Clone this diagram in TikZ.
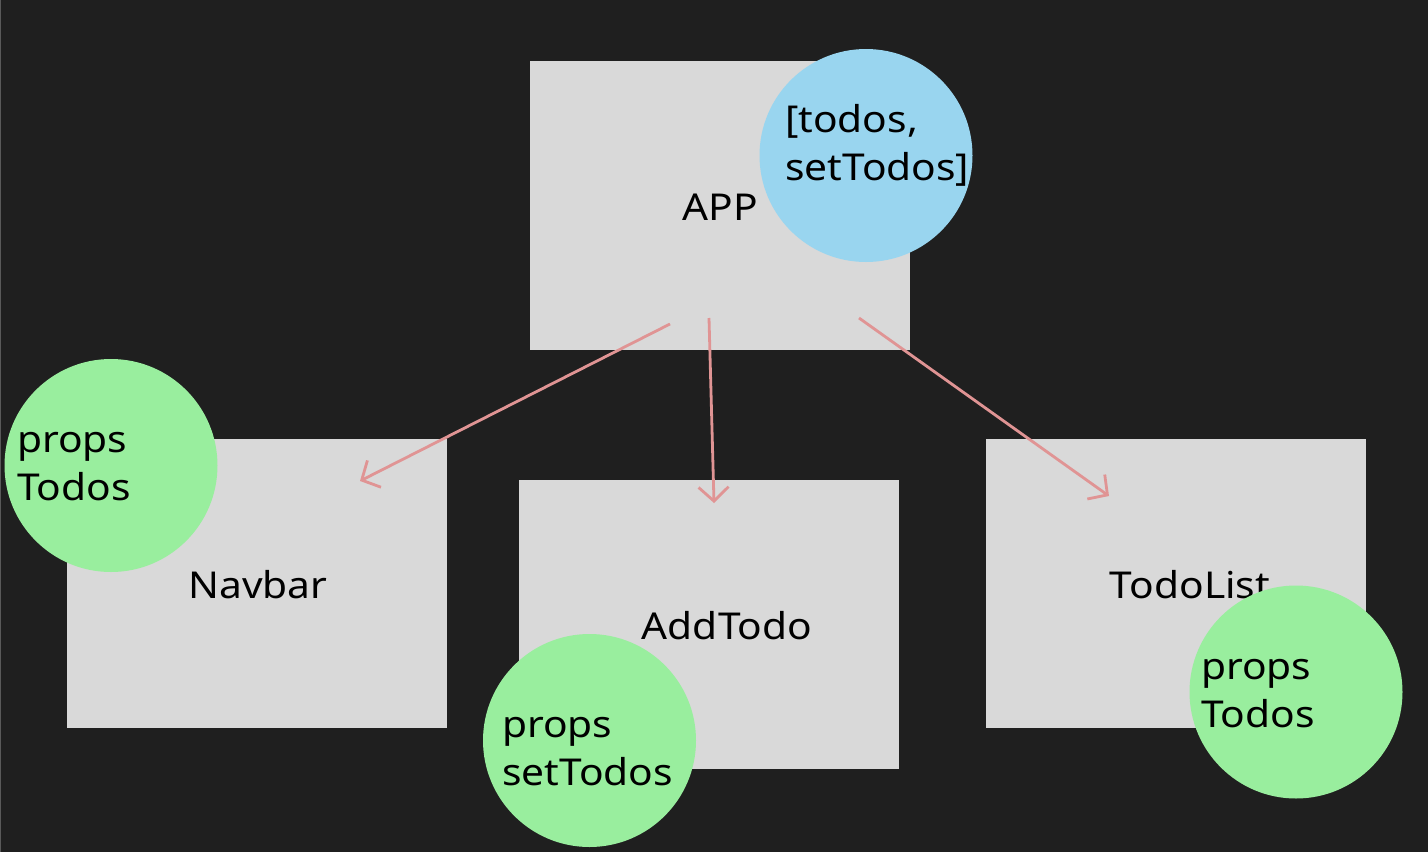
\documentclass[tikz,border=0pt]{standalone}
\usepackage{fontspec}
\setmainfont[FakeStretch=1.1]{Noto Sans}
\usetikzlibrary{arrows.meta}
\definecolor{bg}{HTML}{1F1F1F}
\definecolor{boxgray}{HTML}{D9D9D9}
\definecolor{skyblue}{HTML}{99D5EF}
\definecolor{mint}{HTML}{99EE9E}
\definecolor{arrowpink}{HTML}{E09494}
\tikzset{
  box/.style={fill=boxgray, draw=none, minimum width=380pt, minimum height=289pt, inner sep=0pt},
  bubble/.style={circle, draw=none, minimum size=213pt, inner sep=0pt},
  lbl/.style={font=\fontsize{37}{48}\selectfont, text=black, inner sep=0pt},
  blbl/.style={font=\fontsize{37}{48}\selectfont, text=black, inner sep=0pt, align=left, anchor=west},
  flow/.style={draw=arrowpink, line width=2.8pt, -{Straight Barb[length=14pt,width=30pt,line width=2.8pt]}}
}
\begin{document}
\begin{tikzpicture}[x=1pt,y=-1pt]
\fill[bg] (0,0) rectangle (1428,852);
\useasboundingbox (0,0) rectangle (1428,852);
\draw[gray!60!bg, line width=1pt] (0.5,0) -- (0.5,852);
% boxes
\node[box] (app) at (720,205.5) {};
\node[box] (navbar) at (257,583.5) {};
\node[box] (addtodo) at (709,624.5) {};
\node[box] (todolist) at (1176,583.5) {};
% box labels
\node[lbl] (appl) at (720,207) {APP};
\node[lbl] (navl) at (258,585) {Navbar};
\node[lbl] (addl) at (727,626) {AddTodo};
\node[lbl] (tdl) at (1190,585) {TodoList};
% arrows
\coordinate (a1s) at (670,324);
\coordinate (a1e) at (360,481);
\coordinate (a2s) at (709,318);
\coordinate (a2e) at (714,503);
\coordinate (a3s) at (859,318);
\coordinate (a3e) at (1109,496);
\draw[flow] (a1s) -- (a1e);
\draw[flow] (a2s) -- (a2e);
\draw[flow] (a3s) -- (a3e);
% bubbles
\node[bubble, fill=skyblue] (state) at (866,155.5) {};
\node[blbl] (statel) at (785,145) {[todos,\\setTodos]};
\node[bubble, fill=mint] (navp) at (111,465.5) {};
\node[blbl] (navpl) at (17,467) {props\\Todos};
\node[bubble, fill=mint] (addp) at (589.5,740.5) {};
\node[blbl] (addpl) at (502,752) {props\\setTodos};
\node[bubble, fill=mint] (tdp) at (1296,692) {};
\node[blbl] (tdpl) at (1201,694) {props\\Todos};
\end{tikzpicture}
\end{document}
